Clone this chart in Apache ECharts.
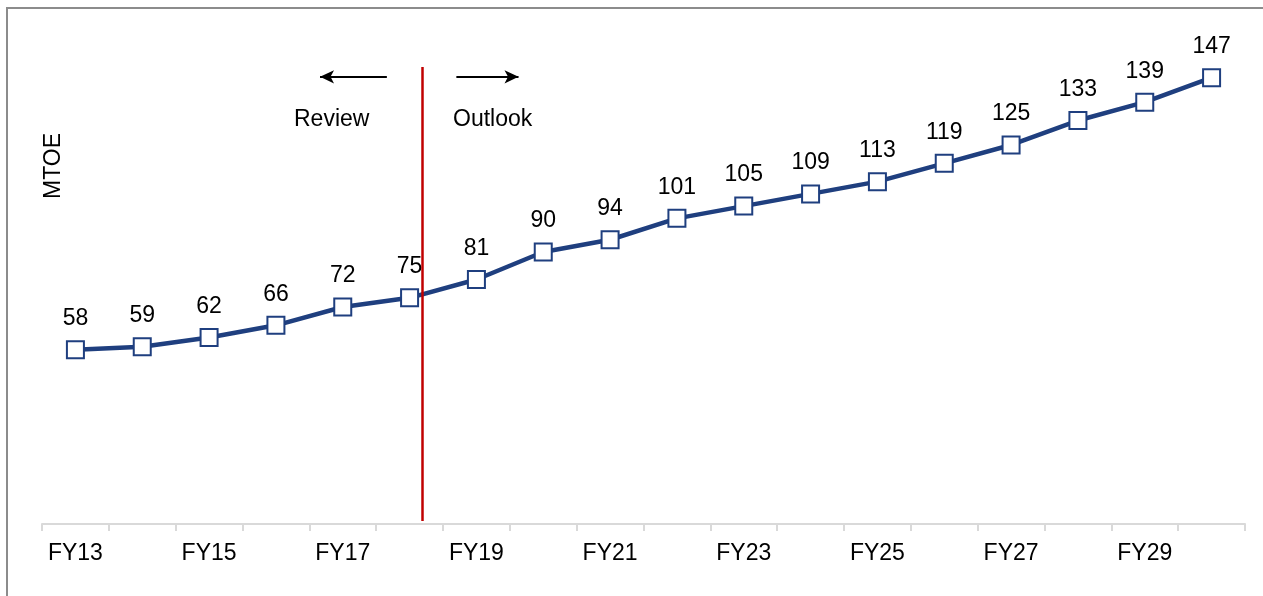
<!DOCTYPE html>
<html>
<head>
<meta charset="utf-8">
<script src="https://cdn.jsdelivr.net/npm/echarts@6/dist/echarts.min.js"></script>
<style>
  html, body { margin: 0; padding: 0; background: #fff; }
  #chart { width: 1263px; height: 596px; }
</style>
</head>
<body>
<div id="chart"></div>
<script>
// fiscal years and energy demand (MTOE)
const years = ['FY13', 'FY14', 'FY15', 'FY16', 'FY17', 'FY18', 'FY19', 'FY20', 'FY21',
  'FY22', 'FY23', 'FY24', 'FY25', 'FY26', 'FY27', 'FY28', 'FY29', 'FY30']
const demand = [58, 59, 62, 66, 72, 75, 81, 90, 94, 101, 105, 109, 113, 119, 125, 133, 139, 147]

// review / outlook divider, in category units from the left of the axis
const dividerAt = 5.69

const navy = '#1f3f7f'
const font = 'Liberation Sans, Arial, sans-serif'
const fs = 23

const chart = echarts.init(document.getElementById('chart'))

chart.setOption({
  animation: false,
  grid: {
    left: 42,
    right: 18,
    top: 38,
    bottom: 72
  },
  xAxis: [{
    type: 'category',
    data: years,
    boundaryGap: true,
    axisLine: { lineStyle: { color: '#d9d9d9', width: 2 } },
    axisTick: { show: true, interval: 0, length: 7, lineStyle: { color: '#d9d9d9', width: 2 } },
    axisLabel: {
      interval: 1,
      color: '#000',
      fontFamily: font,
      fontSize: fs,
      margin: 18
    }
  }, {
    // hidden linear axis, used to place the divider and arrows
    type: 'value',
    min: 0,
    max: 18,
    show: false
  }],
  yAxis: {
    type: 'value',
    min: 1,
    max: 160,
    show: false,
    splitLine: { show: false }
  },
  graphic: [
    {
      type: 'rect',
      shape: { x: 7, y: 8, width: 1300, height: 650 },
      style: { fill: 'none', stroke: '#8c8c8c', lineWidth: 2 },
      z: -1
    },
    {
      type: 'text',
      x: 42,
      y: 199,
      rotation: Math.PI / 2,
      style: { text: 'MTOE', fill: '#000', font: fs + 'px ' + font }
    },
    {
      type: 'text',
      x: 294,
      y: 108,
      style: { text: 'Review', fill: '#000', font: fs + 'px ' + font }
    },
    {
      type: 'text',
      x: 453,
      y: 108,
      style: { text: 'Outlook', fill: '#000', font: fs + 'px ' + font }
    }
  ],
  series: [{
    name: 'Demand',
    type: 'line',
    data: demand,
    symbol: 'rect',
    symbolSize: 17,
    itemStyle: { color: '#fff', borderColor: navy, borderWidth: 2 },
    lineStyle: { color: navy, width: 4.5 },
    label: {
      show: true,
      position: 'top',
      distance: 10,
      color: '#000',
      fontFamily: font,
      fontSize: fs
    },
    z: 3
  }, {
    name: 'divider',
    type: 'line',
    xAxisIndex: 1,
    data: [],
    silent: true,
    markLine: {
      silent: true,
      animation: false,
      label: { show: false },
      data: [
        [
          { coord: [dividerAt, 2], symbol: 'none' },
          { coord: [dividerAt, 150.5], symbol: 'none' }
        ],
        [
          { coord: [5.16, 147.3], symbol: 'none' },
          { coord: [4.16, 147.3], symbol: 'arrow', symbolSize: [10, 14] }
        ],
        [
          { coord: [6.2, 147.3], symbol: 'none' },
          { coord: [7.13, 147.3], symbol: 'arrow', symbolSize: [10, 14] }
        ]
      ],
      lineStyle: { type: 'solid', width: 2, color: '#000' }
    },
    z: 4
  }]
})

// the divider is red, the arrows black
const opt = chart.getOption()
opt.series[1].markLine.data[0][0].lineStyle = { color: '#c00000', width: 2.5, type: 'solid' }
chart.setOption({ series: opt.series })
</script>
</body>
</html>
